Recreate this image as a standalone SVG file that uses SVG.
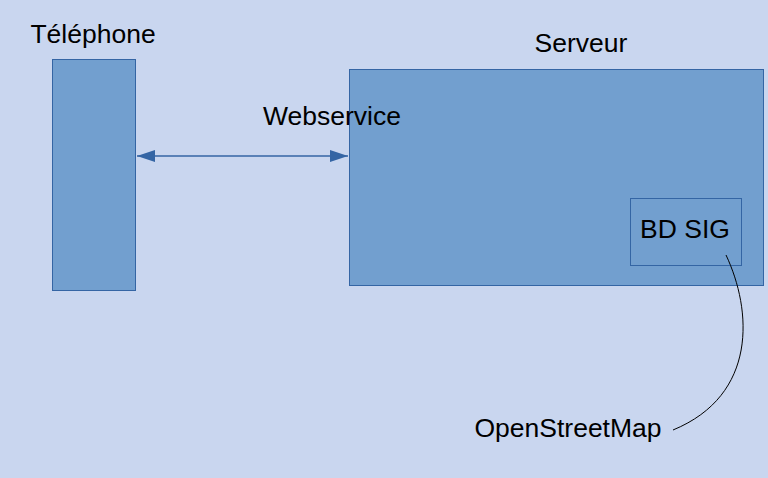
<svg xmlns="http://www.w3.org/2000/svg" width="768" height="478" viewBox="0 0 768 478">
<style>
text{font-family:"Liberation Sans",Arial,sans-serif;font-size:26.5px;fill:#000}
.box{fill:#729fcf;stroke:#3465a4;stroke-width:1}
</style>
<defs>
<marker id="ah" viewBox="0 0 18 12" refX="18" refY="6" markerWidth="18" markerHeight="12" markerUnits="userSpaceOnUse" orient="auto-start-reverse">
<path d="M0,0 L18,6 L0,12 Z" fill="#3465a4"/>
</marker>
</defs>
<rect width="768" height="478" fill="#c9d6ef"/>
<g id="telephone">
<rect class="box" x="52.5" y="59.5" width="83" height="231"/>
<text x="93" y="43" text-anchor="middle">Téléphone</text>
</g>
<g id="serveur">
<rect class="box" x="349.5" y="69.5" width="414" height="216"/>
<text x="581" y="52" text-anchor="middle">Serveur</text>
</g>
<g id="bdsig">
<rect class="box" x="630.5" y="198.5" width="111" height="67"/>
<text x="685" y="238" text-anchor="middle">BD SIG</text>
</g>
<g id="webservice">
<text x="332" y="125" text-anchor="middle">Webservice</text>
</g>
<g id="osm">
<text x="568" y="437" text-anchor="middle">OpenStreetMap</text>
</g>
<g id="connectors">
<line x1="137" y1="156" x2="348" y2="156" stroke="#3465a4" stroke-width="1.5" marker-start="url(#ah)" marker-end="url(#ah)"/>
<path d="M726,255 C752,310 758,395 673,430" fill="none" stroke="#000" stroke-width="1"/>
</g>
</svg>
